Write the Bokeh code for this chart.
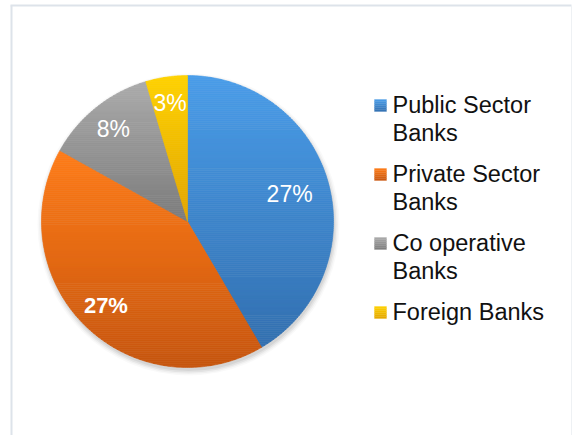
import numpy as np
from bokeh.plotting import figure
from bokeh.models import Range1d, ColumnDataSource
from bokeh.core.properties import value
from bokeh.embed import file_html
from bokeh.resources import INLINE

# ---------------- data ----------------
categories = ["Public Sector Banks", "Private Sector Banks", "Co operative Banks", "Foreign Banks"]
values = [27, 27, 8, 3]
pct_labels = ["27%", "27%", "8%", "3%"]
legend_lines = [["Public Sector", "Banks"], ["Private Sector", "Banks"],
                ["Co operative", "Banks"], ["Foreign Banks"]]

# ---------------- style ----------------
top_colors = ["#4a9de9", "#ff7c18", "#ababab", "#ffd200"]
bottom_colors = ["#3370b0", "#c7560f", "#7c7c7c", "#e2a500"]
label_bold = [False, True, False, False]
label_radius = [0.725, 0.80, 0.81, 0.82]

W, H = 572, 435
p = figure(width=W, height=H, x_range=Range1d(0, W), y_range=Range1d(H, 0),
           output_backend="svg", toolbar_location=None,
           x_axis_type=None, y_axis_type=None, min_border=0)
p.grid.visible = False
p.outline_line_color = None
p.background_fill_color = "white"
p.border_fill_color = "white"

# chart frame (light border)
p.line(x=[11, 11], y=[H, 5], line_color="#dde3ea", line_width=2)
p.line(x=[10, 571], y=[5, 5], line_color="#dde3ea", line_width=2)
p.line(x=[571, 571], y=[5, H], line_color="#eef1f4", line_width=1)

cx, cy, R = 187.0, 221.0, 146.0


def hex_rgb(h):
    h = h.lstrip("#")
    return np.array([int(h[i:i + 2], 16) for i in (0, 2, 4)], dtype=float)


def lerp_hex(a, b, t):
    c = hex_rgb(a) * (1 - t) + hex_rgb(b) * t
    return "#%02x%02x%02x" % tuple(int(round(v)) for v in c)


def clip_half(pts, yb, keep_ge):
    out = []
    n = len(pts)
    for i in range(n):
        x1, y1 = pts[i]
        x2, y2 = pts[(i + 1) % n]
        in1 = (y1 >= yb) if keep_ge else (y1 <= yb)
        in2 = (y2 >= yb) if keep_ge else (y2 <= yb)
        if in1:
            out.append((x1, y1))
        if in1 != in2:
            t = (yb - y1) / (y2 - y1)
            out.append((x1 + t * (x2 - x1), yb))
    return out


# soft shadow
for k, a in [(5, 0.025), (3.5, 0.035), (2, 0.05), (0.5, 0.06)]:
    p.circle(x=[cx + 1], y=[cy + 3], radius=R + k, fill_color="black",
             fill_alpha=a, line_color=None)

total = float(sum(values))
xs, ys, cols = [], [], []
start = 0.0
mids = []
for i, v in enumerate(values):
    span = 360.0 * v / total
    a0, a1 = start, start + span
    mids.append((a0 + a1) / 2.0)
    th = np.radians(np.linspace(a0, a1, 200))
    poly = [(cx, cy)] + [(cx + R * np.sin(t), cy - R * np.cos(t)) for t in th]
    pys = [pt[1] for pt in poly]
    ymin, ymax = min(pys), max(pys)
    nb = max(4, int((ymax - ymin) / 2.0))
    edges = np.linspace(ymin, ymax, nb + 1)
    for b in range(nb):
        seg = clip_half(poly, edges[b], True)
        if len(seg) < 3:
            continue
        seg = clip_half(seg, edges[b + 1], False)
        if len(seg) < 3:
            continue
        t = ((edges[b] + edges[b + 1]) / 2 - ymin) / (ymax - ymin)
        xs.append([q[0] for q in seg])
        ys.append([q[1] for q in seg])
        cols.append(lerp_hex(top_colors[i], bottom_colors[i], t))
    start = a1

p.patches(xs="xs", ys="ys", fill_color="cols", line_color="cols", line_width=0.6,
          source=ColumnDataSource(dict(xs=xs, ys=ys, cols=cols)))

# slice labels
for i, lab in enumerate(pct_labels):
    r = R * label_radius[i]
    t = np.radians(mids[i])
    p.text(x=[cx + r * np.sin(t)], y=[cy - r * np.cos(t)], text=[lab],
           text_color="white", text_font=value("Liberation Sans"),
           text_font_size="22px" if label_bold[i] else "23px",
           text_font_style="bold" if label_bold[i] else "normal",
           text_align="center", text_baseline="middle")

# legend
lx_sq, lx_txt = 380.0, 392.0
mid0, step, line_h = 104.0, 69.0, 28.0
sq = 12.0
for i, lines in enumerate(legend_lines):
    m = mid0 + i * step
    sy0 = m + 1 - sq / 2
    nbq = 6
    for k in range(nbq):
        t = (k + 0.5) / nbq
        c = lerp_hex(top_colors[i], bottom_colors[i], t)
        p.quad(left=[lx_sq - sq / 2], right=[lx_sq + sq / 2],
               top=[sy0 + k * sq / nbq], bottom=[sy0 + (k + 1) * sq / nbq],
               fill_color=c, line_color=c, line_width=0.3)
    for j, ln in enumerate(lines):
        p.text(x=[lx_txt], y=[m + j * line_h], text=[ln], text_color="#111111",
               text_font=value("Liberation Sans"), text_font_size="23.5px",
               text_align="left", text_baseline="middle")

open("out.html", "w").write(file_html(p, INLINE))
